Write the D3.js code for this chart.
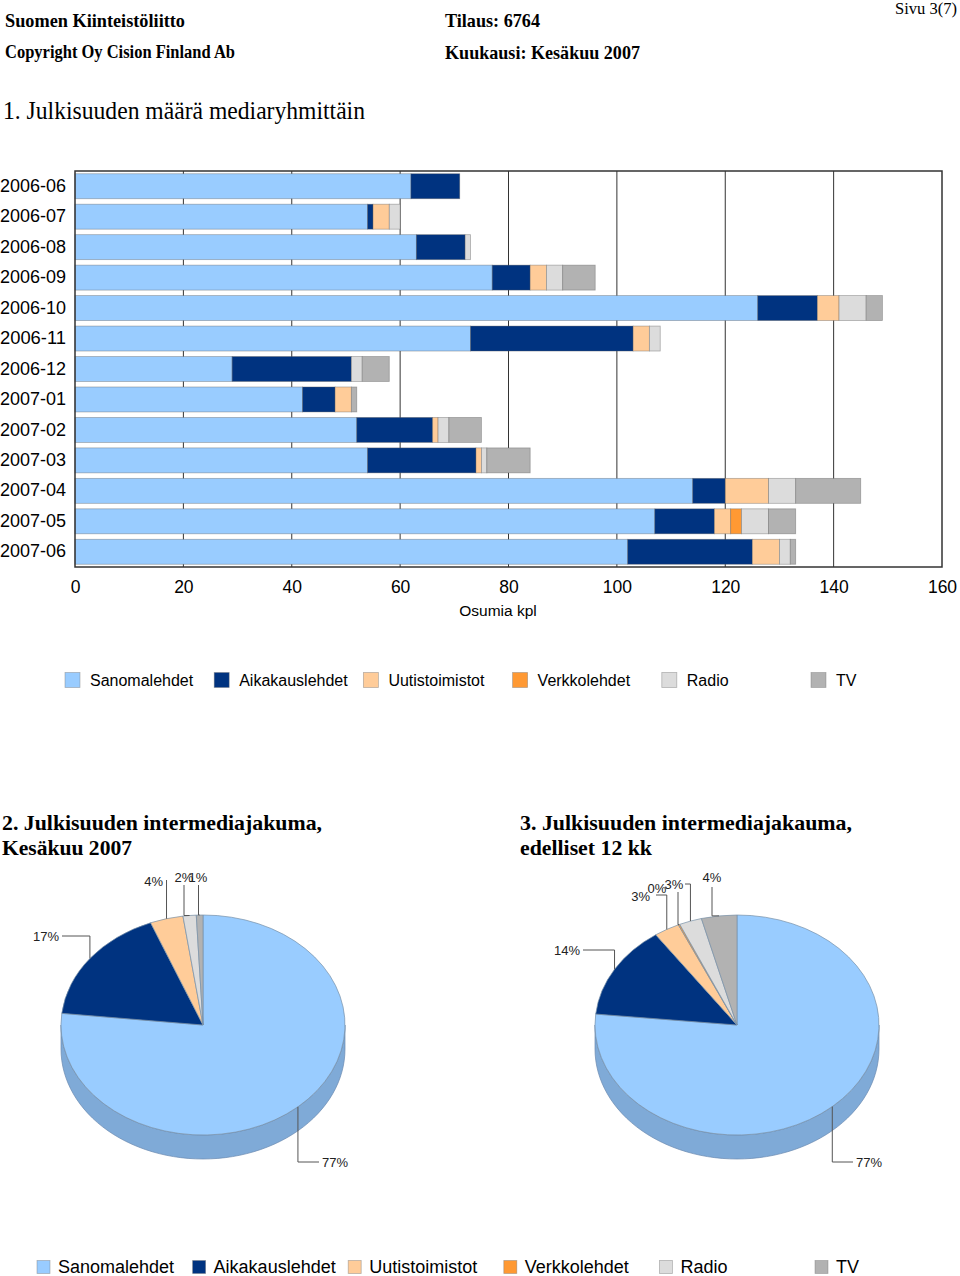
<!DOCTYPE html>
<html>
<head>
<meta charset="utf-8">
<script src="https://cdn.jsdelivr.net/npm/d3@7"></script>
<style>
  body { margin: 0; background: #fff; }
  svg { display: block; }
  .serif { font-family: "Liberation Serif", "Times New Roman", serif; }
  .sans { font-family: "Liberation Sans", Arial, sans-serif; }
</style>
</head>
<body>
<div id="page"></div>
<script>
// monthly hits per media group
const months = ["2006-06", "2006-07", "2006-08", "2006-09", "2006-10", "2006-11", "2006-12",
  "2007-01", "2007-02", "2007-03", "2007-04", "2007-05", "2007-06"];
const sanomalehdet   = [62, 54, 63, 77, 126, 73, 29, 42, 52, 54, 114, 107, 102];
const aikakauslehdet = [9, 1, 9, 7, 11, 30, 22, 6, 14, 20, 6, 11, 23];
const uutistoimistot = [0, 3, 0, 3, 4, 3, 0, 3, 1, 1, 8, 3, 5];
const verkkolehdet   = [0, 0, 0, 0, 0, 0, 0, 0, 0, 0, 0, 2, 0];
const radio          = [0, 2, 1, 3, 5, 2, 2, 0, 2, 1, 5, 5, 2];
const tv             = [0, 0, 0, 6, 3, 0, 5, 1, 6, 8, 12, 5, 1];

const groups = ["Sanomalehdet", "Aikakauslehdet", "Uutistoimistot", "Verkkolehdet", "Radio", "TV"];
const groupValues = [sanomalehdet, aikakauslehdet, uutistoimistot, verkkolehdet, radio, tv];
const groupColors = ["#99ccff", "#003380", "#ffcc99", "#ff9933", "#dcdcdc", "#b2b2b2"];
const xTicks = [0, 20, 40, 60, 80, 100, 120, 140, 160];

const W = 960, H = 1276;
const svg = d3.select("#page").append("svg").attr("width", W).attr("height", H);

// ---------- header ----------
function txt(x, y, s, size, opts = {}) {
  const t = svg.append("text")
    .attr("class", opts.cls || "serif")
    .attr("x", x).attr("y", y)
    .attr("font-size", size)
    .attr("font-weight", opts.bold ? "bold" : "normal")
    .attr("text-anchor", opts.anchor || "start")
    .attr("dominant-baseline", "central")
    .attr("fill", "#000")
    .text(s);
  if (opts.len) t.attr("textLength", opts.len).attr("lengthAdjust", "spacingAndGlyphs");
  return t;
}
txt(5, 20, "Suomen Kiinteistöliitto", 19, { bold: true, len: 180 });
txt(5, 52, "Copyright Oy Cision Finland Ab", 18, { bold: true, len: 230 });
txt(445, 20, "Tilaus: 6764", 19, { bold: true, len: 95 });
txt(445, 52, "Kuukausi: Kesäkuu 2007", 19, { bold: true, len: 195 });
txt(895, 8, "Sivu 3(7)", 16.5, { len: 62 });
txt(3, 110, "1. Julkisuuden määrä mediaryhmittäin", 25, { len: 362 });

// ---------- stacked bar chart ----------
const x = d3.scaleLinear().domain([0, 160]).range([75, 942]);
const y = d3.scaleBand().domain(months).range([171, 567]).paddingInner(0.18).paddingOuter(0.09);

const rows = months.map((m, i) => {
  const r = { month: m };
  groups.forEach((g, k) => { r[g] = groupValues[k][i]; });
  return r;
});
const stacked = d3.stack().keys(groups)(rows);

const chart = svg.append("g");
chart.append("g")
  .selectAll("line")
  .data(xTicks.slice(1, -1))
  .join("line")
  .attr("x1", d => x(d)).attr("x2", d => x(d))
  .attr("y1", 171).attr("y2", 567)
  .attr("stroke", "#333").attr("stroke-width", 1);

chart.append("g")
  .selectAll("g")
  .data(stacked)
  .join("g")
  .attr("fill", (d, i) => groupColors[i])
  .selectAll("rect")
  .data(d => d.filter(s => s[1] > s[0]))
  .join("rect")
  .attr("x", d => x(d[0]))
  .attr("width", d => x(d[1]) - x(d[0]))
  .attr("y", d => y(d.data.month))
  .attr("height", y.bandwidth())
  .attr("stroke", "rgba(90,90,90,0.45)")
  .attr("stroke-width", 0.8);

chart.append("rect")
  .attr("x", x(0)).attr("y", 171)
  .attr("width", x(160) - x(0)).attr("height", 396)
  .attr("fill", "none").attr("stroke", "#333").attr("stroke-width", 1.5);

const yAxis = chart.append("g").attr("transform", `translate(${x(0)},0)`)
  .call(d3.axisLeft(y).tickSize(0).tickPadding(9));
yAxis.select(".domain").remove();
yAxis.selectAll("text").attr("class", "sans").attr("font-size", 17.5).attr("fill", "#000")
  .attr("textLength", 66).attr("lengthAdjust", "spacingAndGlyphs");

const xAxis = chart.append("g").attr("transform", "translate(0,567)")
  .call(d3.axisBottom(x).tickValues(xTicks).tickSize(0).tickPadding(14));
xAxis.select(".domain").remove();
xAxis.selectAll("text").attr("class", "sans").attr("font-size", 17.5).attr("fill", "#000");

txt(498, 610, "Osumia kpl", 15.5, { cls: "sans", anchor: "middle" });

// legend under the bar chart
function legend(lx, ly, step, box, size, offs) {
  const lg = svg.append("g").attr("transform", `translate(${lx},${ly})`);
  const item = lg.selectAll("g").data(groups).join("g")
    .attr("transform", (d, i) => `translate(${i * step},0)`);
  item.append("rect")
    .attr("x", 0).attr("y", -box / 2).attr("width", box).attr("height", box)
    .attr("fill", (d, i) => groupColors[i])
    .attr("stroke", "rgba(120,120,120,0.5)").attr("stroke-width", 0.8);
  item.append("text")
    .attr("class", "sans").attr("x", offs).attr("y", 0)
    .attr("dominant-baseline", "central").attr("font-size", size)
    .text(d => d);
}
legend(65, 680, 149.2, 15, 16, 25);

// ---------- 3D pies ----------
txt(2, 823, "2. Julkisuuden intermediajakuma,", 21.5, { bold: true, len: 320 });
txt(2, 848, "Kesäkuu 2007", 21.5, { bold: true, len: 130 });
txt(520, 823, "3. Julkisuuden intermediajakauma,", 21.5, { bold: true, len: 332 });
txt(520, 848, "edelliset 12 kk", 21.5, { bold: true, len: 132 });

const last = months.length - 1;
const pieJune = groupValues.map(v => v[last]);
const pie12 = groupValues.map(v => d3.sum(v.slice(1)));

// label placement: vertical leader x (lx), its end y (ly), text position
const labelsJune = [
  { ly: 1162, hx: 319, tx: 322, ty: 1162, anchor: "start" },
  { ly: 936, hx: 62, tx: 59, ty: 936, anchor: "end" },
  { ly: 880, tx: 163, ty: 881, anchor: "end" },
  null,
  { lx: 184, ly: 885, tx: 184, ty: 877, anchor: "middle" },
  { lx: 198.5, ly: 885, tx: 198, ty: 877, anchor: "middle" }
];
const labels12 = [
  { ly: 1162, hx: 853, tx: 856, ty: 1162, anchor: "start" },
  { ly: 950, hx: 583, tx: 580, ty: 950, anchor: "end" },
  { ly: 895, hx: 656, tx: 650, ty: 896, anchor: "end" },
  { lx: 678, ly: 892, tx: 657, ty: 888, anchor: "middle" },
  { ly: 884, hx: 685, tx: 674, ty: 884, anchor: "middle" },
  { lx: 712, ly: 887, tx: 712, ty: 877, anchor: "middle" }
];

function pie3d(values, cx, cy, labels) {
  const rx = 142, ry = 110, depth = 24;
  const total = d3.sum(values);
  const arcs = d3.pie().sort(null).value(d => d)(values);
  const g = svg.append("g");
  const pt = (a, dy = 0) => [cx + rx * Math.sin(a), cy - ry * Math.cos(a) + dy];

  // side wall of the front half
  arcs.forEach((a, i) => {
    const a0 = Math.max(a.startAngle, Math.PI / 2), a1 = Math.min(a.endAngle, 3 * Math.PI / 2);
    if (a1 <= a0) return;
    const n = 60;
    const top = d3.range(n + 1).map(k => pt(a0 + (a1 - a0) * k / n));
    const bot = top.map(p => [p[0], p[1] + depth]).reverse();
    g.append("path")
      .attr("d", d3.line()(top.concat(bot)) + "Z")
      .attr("fill", d3.interpolateRgb(groupColors[i], "#4a6485")(0.33))
      .attr("stroke", "#6a8ab0").attr("stroke-width", 0.7);
  });

  // top face
  const face = g.append("g").attr("transform", `translate(${cx},${cy}) scale(1,${ry / rx})`);
  face.selectAll("path").data(arcs.filter(a => a.endAngle > a.startAngle)).join("path")
    .attr("d", d3.arc().innerRadius(0).outerRadius(rx))
    .attr("fill", d => groupColors[d.index])
    .attr("stroke", "#7890a8").attr("stroke-width", 0.7)
    .attr("vector-effect", "non-scaling-stroke");

  // labels with leader lines
  const fmt = d3.format(".0%");
  arcs.forEach((a, i) => {
    const L = labels[i];
    if (!L) return;
    const mid = (a.startAngle + a.endAngle) / 2;
    const r = pt(mid);
    const lx = L.lx !== undefined ? L.lx : r[0];
    const path = [r, [lx, r[1]], [lx, L.ly]];
    if (L.hx !== undefined) path.push([L.hx, L.ly]);
    g.append("path")
      .attr("d", d3.line()(path))
      .attr("fill", "none").attr("stroke", "#555").attr("stroke-width", 1);
    g.append("text")
      .attr("class", "sans").attr("x", L.tx).attr("y", L.ty)
      .attr("text-anchor", L.anchor).attr("dominant-baseline", "central")
      .attr("font-size", 13).attr("fill", "#222")
      .text(fmt(a.value / total));
  });
}
pie3d(pieJune, 203, 1025, labelsJune);
pie3d(pie12, 737, 1025, labels12);

legend(37, 1267, 155.6, 13, 18, 21);
</script>
</body>
</html>
